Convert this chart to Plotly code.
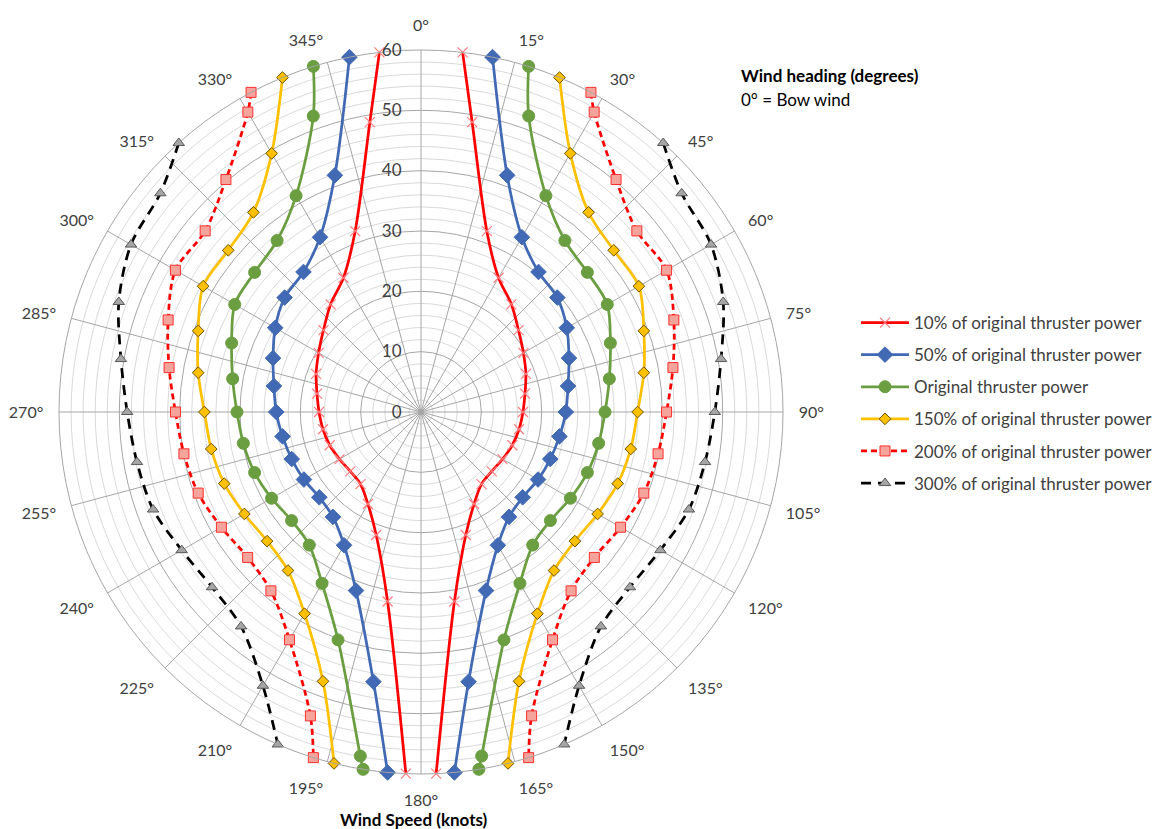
import plotly.graph_objects as go

# ---------------- data ----------------
# Starboard side (right half), heading in degrees, wind speed in knots
P10_STBD_DEG = [6.6, 10, 20, 30, 40, 50, 60, 70, 80, 90, 100, 110, 120, 130, 140, 150, 160, 170, 177.6]
P10_STBD_KN = [60, 48.8, 31.9, 25.7, 23.3, 21.1, 19.6, 18.5, 17.5, 16.9, 16.5, 16.1, 15.6, 15.3, 15.6, 17.6, 21.7, 31.9, 60]
P10_PORT_DEG = [353.4, 350, 340, 330, 320, 310, 300, 290, 280, 270, 260, 250, 240, 230, 220, 210, 200, 190, 182.4]
P10_PORT_KN = [60, 48.8, 31.9, 25.7, 23.3, 21.1, 19.6, 18.5, 17.5, 16.9, 16.5, 16.1, 15.6, 15.3, 15.6, 17.6, 21.7, 31.9, 60]

P50_STBD_DEG = [11.4, 20, 30, 40, 50, 60, 70, 80, 90, 100, 110, 120, 130, 140, 150, 160, 170, 174.7]
P50_STBD_KN = [60, 41.75, 33.45, 30.3, 29.5, 27.9, 26.1, 24.75, 24.0, 23.3, 22.8, 22.4, 22.0, 22.7, 25.5, 31.5, 45.4, 60]
P50_PORT_DEG = [348.6, 340, 330, 320, 310, 300, 290, 280, 270, 260, 250, 240, 230, 220, 210, 200, 190, 185.3]
P50_PORT_KN = [60, 41.75, 33.45, 30.3, 29.5, 27.9, 26.1, 24.75, 24.0, 23.3, 22.8, 22.4, 22.0, 22.7, 25.5, 31.5, 45.4, 60]

P100_STBD_DEG = [17.3, 20, 30, 40, 50, 60, 70, 80, 90, 100, 110, 120, 130, 140, 150, 160, 170, 170.8]
P100_STBD_KN = [60, 52.2, 41.4, 37.1, 36.0, 35.65, 33.4, 31.7, 30.5, 29.9, 29.35, 28.6, 28.0, 28.8, 32.8, 40.2, 57.9, 60]
P100_PORT_DEG = [342.7, 340, 330, 320, 310, 300, 290, 280, 270, 260, 250, 240, 230, 220, 210, 200, 190, 189.2]
P100_PORT_KN = [60, 52.2, 41.4, 37.1, 36.0, 35.65, 33.4, 31.7, 30.5, 29.9, 29.35, 28.6, 28.0, 28.8, 32.8, 40.2, 57.9, 60]

P150_STBD_DEG = [22.5, 30, 40, 50, 60, 70, 80, 90, 100, 110, 120, 130, 140, 150, 160, 166.1]
P150_STBD_KN = [60, 49.5, 43.2, 41.7, 41.7, 39.3, 37.5, 35.9, 35.3, 34.7, 33.8, 33.3, 34.3, 38.6, 47.5, 60]
P150_PORT_DEG = [337.5, 330, 320, 310, 300, 290, 280, 270, 260, 250, 240, 230, 220, 210, 200, 193.9]
P150_PORT_KN = [60, 49.5, 43.2, 41.7, 41.7, 39.3, 37.5, 35.9, 35.3, 34.7, 33.8, 33.3, 34.3, 38.6, 47.5, 60]

P200_STBD_DEG = [28, 30, 40, 50, 60, 70, 80, 90, 100, 110, 120, 130, 140, 150, 160, 162.7]
P200_STBD_KN = [60, 57.4, 50.3, 46.7, 47.0, 44.6, 42.4, 40.7, 39.9, 39.3, 38.2, 37.5, 38.7, 43.6, 53.6, 60]
P200_PORT_DEG = [332, 330, 320, 310, 300, 290, 280, 270, 260, 250, 240, 230, 220, 210, 200, 197.3]
P200_PORT_KN = [60, 57.4, 50.3, 46.7, 47.0, 44.6, 42.4, 40.7, 39.9, 39.3, 38.2, 37.5, 38.7, 43.6, 53.6, 60]

P300_STBD_DEG = [42, 50, 60, 70, 80, 90, 100, 110, 120, 130, 140, 150, 156.7]
P300_STBD_KN = [60, 56.4, 55.5, 53.3, 50.5, 48.7, 47.8, 47.25, 45.8, 45.2, 46.4, 52.4, 60]
P300_PORT_DEG = [318, 310, 300, 290, 280, 270, 260, 250, 240, 230, 220, 210, 203.3]
P300_PORT_KN = [60, 56.4, 55.5, 53.3, 50.5, 48.7, 47.8, 47.25, 45.8, 45.2, 46.4, 52.4, 60]

SERIES_NAMES = [
    "10% of original thruster power",
    "50% of original thruster power",
    "Original thruster power",
    "150% of original thruster power",
    "200% of original thruster power",
    "300% of original thruster power",
]

HEADING_TICKS = list(range(0, 360, 15))
HEADING_LABELS = [f"{h}°" for h in HEADING_TICKS]
SPEED_MAJOR = [0, 10, 20, 30, 40, 50, 60]
SPEED_MINOR = [2, 4, 6, 8, 12, 14, 16, 18, 22, 24, 26, 28, 32, 34, 36, 38, 42, 44, 46, 48, 52, 54, 56, 58]

# ---------------- styling ----------------
FONT = "Lato"
TXT = "#404040"

series = [
    (P10_STBD_DEG, P10_STBD_KN, P10_PORT_DEG, P10_PORT_KN,
     dict(color="#FF0000", width=2.75), dict(symbol="x-thin", size=10, color="#FF7C80", line=dict(color="#FF7C80", width=1.2))),
    (P50_STBD_DEG, P50_STBD_KN, P50_PORT_DEG, P50_PORT_KN,
     dict(color="#4169B4", width=2.75), dict(symbol="diamond", size=12, color="#4169B4", line=dict(color="#4169B4", width=1))),
    (P100_STBD_DEG, P100_STBD_KN, P100_PORT_DEG, P100_PORT_KN,
     dict(color="#6A9E40", width=2.75), dict(symbol="circle", size=12, color="#6A9E40", line=dict(color="#6A9E40", width=1))),
    (P150_STBD_DEG, P150_STBD_KN, P150_PORT_DEG, P150_PORT_KN,
     dict(color="#FFC000", width=2.75), dict(symbol="diamond", size=9, color="#FFC000", line=dict(color="#6B5200", width=1))),
    (P200_STBD_DEG, P200_STBD_KN, P200_PORT_DEG, P200_PORT_KN,
     dict(color="#FF0000", width=2.75, dash="6px,4px"), dict(symbol="square", size=10, color="#F4A49A", line=dict(color="#FF3030", width=1))),
    (P300_STBD_DEG, P300_STBD_KN, P300_PORT_DEG, P300_PORT_KN,
     dict(color="#000000", width=2.75, dash="10px,7px"), dict(symbol="triangle-up", size=10, color="#A5A5A5", line=dict(color="#595959", width=1))),
]

fig = go.Figure()

# minor grid carrier (polar)
fig.add_trace(go.Scatterpolar(r=[0], theta=[0], mode="markers", marker=dict(opacity=0),
                              showlegend=False, hoverinfo="skip", subplot="polar"))

for name, (sd, sk, pd_, pk, line, marker) in zip(SERIES_NAMES, series):
    fig.add_trace(go.Scatterpolar(
        theta=list(sd) + [None] + list(pd_),
        r=list(sk) + [None] + list(pk),
        mode="lines+markers",
        name=name,
        line=dict(shape="spline", smoothing=0.9, **line),
        marker=marker,
        connectgaps=False,
        legendgroup=name,
        subplot="polar2",
    ))

W, H = 1152, 829
cx, cy, R = 421, 412, 362
dom_x = [(cx - R) / W, (cx + R) / W]
dom_y = [(H - cy - R) / H, (H - cy + R) / H]

common_ang = dict(rotation=90, direction="clockwise")

fig.update_layout(
    width=W, height=H,
    margin=dict(l=0, r=0, t=0, b=0, autoexpand=False),
    paper_bgcolor="white",
    plot_bgcolor="white",
    font=dict(family=FONT, color=TXT, size=16),
    polar=dict(
        domain=dict(x=dom_x, y=dom_y),
        bgcolor="white",
        radialaxis=dict(range=[0, 60], tickvals=SPEED_MINOR, showticklabels=False, ticks="",
                        gridcolor="#DADADA", gridwidth=1, showline=False),
        angularaxis=dict(showgrid=False, showticklabels=False, ticks="", showline=False, **common_ang),
    ),
    polar2=dict(
        domain=dict(x=dom_x, y=dom_y),
        bgcolor="rgba(0,0,0,0)",
        radialaxis=dict(range=[0, 60], tickvals=SPEED_MAJOR, showticklabels=True,
                        ticks="outside", ticklen=13, tickcolor="rgba(0,0,0,0)",
                        gridcolor="#A6A6A6", gridwidth=1, showline=False, angle=90, tickangle=90,
                        side="counterclockwise", tickfont=dict(size=17, color=TXT, family=FONT)),
        angularaxis=dict(tickvals=HEADING_TICKS, ticktext=HEADING_LABELS, showgrid=True,
                         gridcolor="#A6A6A6", gridwidth=1, showline=True, linecolor="#A6A6A6", linewidth=1,
                         ticks="outside", ticklen=12, tickcolor="rgba(0,0,0,0)",
                         tickfont=dict(size=16, color=TXT, family=FONT), **common_ang),
    ),
    legend=dict(x=856 / W, y=1 - 305 / H, xanchor="left", yanchor="top", itemwidth=48,
                font=dict(size=17, color=TXT, family=FONT), tracegroupgap=7,
                bgcolor="rgba(0,0,0,0)"),
    annotations=[
        dict(text="<b>Wind heading (degrees)</b>", x=739 / W, y=1 - 76 / H, xref="paper", yref="paper",
             xanchor="left", yanchor="middle", showarrow=False, font=dict(size=17, color="#000000", family=FONT)),
        dict(text="0° = Bow wind", x=739 / W, y=1 - 99 / H, xref="paper", yref="paper",
             xanchor="left", yanchor="middle", showarrow=False, font=dict(size=17, color="#000000", family=FONT)),
        dict(text="<b>Wind Speed (knots)</b>", x=414 / W, y=1 - 819 / H, xref="paper", yref="paper",
             xanchor="center", yanchor="middle", showarrow=False, font=dict(size=17, color="#000000", family=FONT)),
    ],
)

fig.write_html("out.html")
